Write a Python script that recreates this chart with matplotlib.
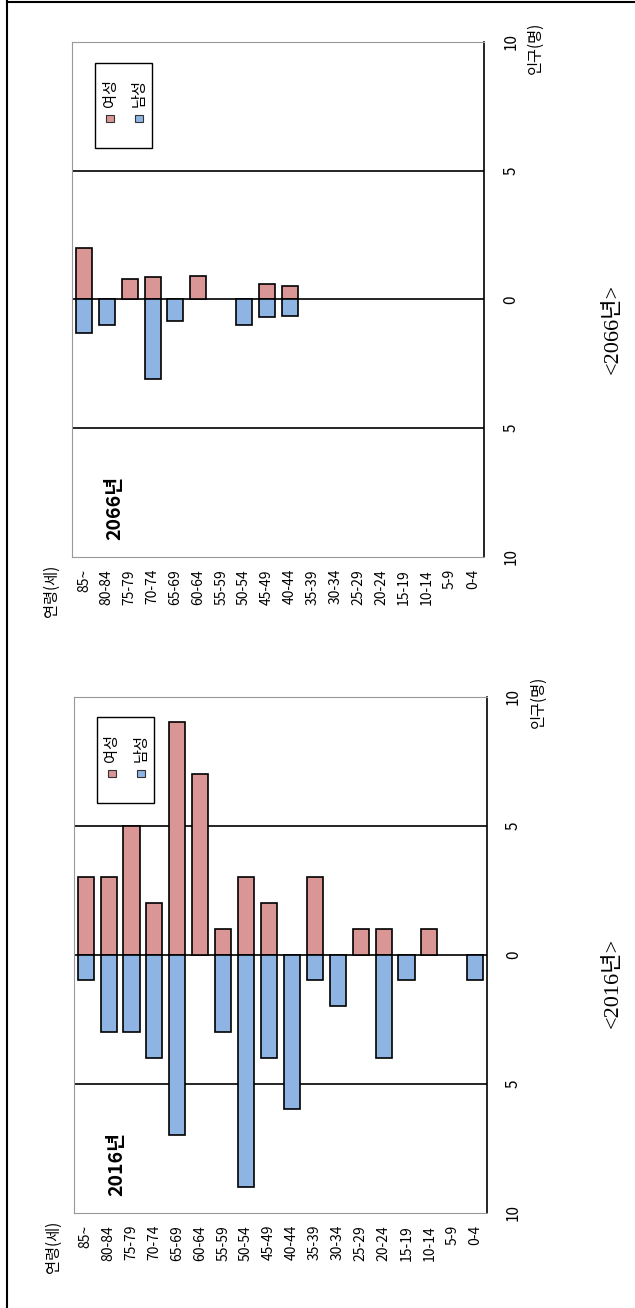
import matplotlib
matplotlib.use('Agg')
import matplotlib.pyplot as plt
from matplotlib.patches import Rectangle
from matplotlib.lines import Line2D

plt.rcParams['font.family'] = ['Noto Sans CJK KR', 'DejaVu Sans']

ages = ['85~', '80-84', '75-79', '70-74', '65-69', '60-64', '55-59', '50-54', '45-49',
        '40-44', '35-39', '30-34', '25-29', '20-24', '15-19', '10-14', '5-9', '0-4']
female_2016 = [3, 3, 5, 2, 9, 7, 1, 3, 2, 0, 3, 0, 1, 1, 0, 1, 0, 0]
male_2016 = [1, 3, 3, 4, 7, 0, 3, 9, 4, 6, 1, 2, 0, 4, 1, 0, 0, 1]
female_2066 = [2.0, 0, 0.8, 0.85, 0, 0.9, 0, 0, 0.6, 0.5, 0, 0, 0, 0, 0, 0, 0, 0]
male_2066 = [1.3, 1.0, 0, 3.1, 0.85, 0, 0, 1.0, 0.7, 0.65, 0, 0, 0, 0, 0, 0, 0, 0]
pop_ticks = [-10, -5, 0, 5, 10]
pop_ticklabels = ['10', '5', '0', '5', '10']
legend_labels = ['여성', '남성']

FEMALE = '#D99694'
MALE = '#8DB4E2'
W, H = 635, 1308


def draw_panel(fig, rect, female, male, year):
    ax = fig.add_axes(rect)
    x = list(range(len(ages)))
    for v in pop_ticks[1:-1]:
        ax.axhline(v, color='black', lw=1.2, zorder=1)
    # empty age groups get no bar at all
    fx = [i for i in x if female[i] != 0]
    mx = [i for i in x if male[i] != 0]
    ax.bar(fx, [female[i] for i in fx], width=0.7, color=FEMALE,
           edgecolor='black', lw=1.2, zorder=2)
    ax.bar(mx, [-male[i] for i in mx], width=0.7, color=MALE,
           edgecolor='black', lw=1.2, zorder=2)
    ax.set_xlim(-0.51, len(ages) - 0.5)
    ax.set_ylim(-10, 10)

    ax.set_xticks(x)
    ax.set_xticklabels(ages, rotation=90, fontsize=10)
    ax.tick_params(axis='x', length=0, pad=9)
    ax.yaxis.tick_right()
    ax.set_yticks(pop_ticks)
    ax.set_yticklabels(pop_ticklabels, rotation=90, va='center', fontsize=11)
    ax.tick_params(axis='y', length=0, pad=13)

    for s in ['left', 'top', 'bottom']:
        ax.spines[s].set_color('#999999')
    ax.spines['right'].set_color('black')
    ax.spines['right'].set_linewidth(1.2)

    # axis names
    ax.text(1.124, 0.989, '인구(명)', rotation=90, ha='center', va='center',
            fontsize=11, transform=ax.transAxes)
    ax.text(-0.051, -0.016, '연령(세)', rotation=90, ha='center', va='top',
            fontsize=11, transform=ax.transAxes)
    ax.text(0.104, 0.094, str(year) + '년', rotation=90, ha='center', va='center',
            fontsize=14, fontweight='bold', transform=ax.transAxes)

    # rotated legend
    ax.add_patch(Rectangle((0.0557, 0.794), 0.138, 0.166, transform=ax.transAxes,
                           facecolor='white', edgecolor='black', lw=1, zorder=5))
    for lx, col, lab in zip([0.092, 0.162], [FEMALE, MALE], legend_labels):
        ax.add_patch(Rectangle((lx - 0.0097, 0.844), 0.0194, 0.0136, transform=ax.transAxes,
                               facecolor=col, edgecolor='#333333', lw=0.8, zorder=6))
        ax.text(lx, 0.901, lab, rotation=90, ha='center', va='center',
                fontsize=11, transform=ax.transAxes, zorder=6)
    return ax


fig = plt.figure(figsize=(W / 100, H / 100), dpi=100)

draw_panel(fig, [74 / W, 1 - 1212.5 / H, 412.7 / W, 516 / H], female_2016, male_2016, 2016)
draw_panel(fig, [72.3 / W, 1 - 556.6 / H, 412 / W, 514.6 / H], female_2066, male_2066, 2066)

cap_font = ['Liberation Serif', 'Noto Sans CJK KR']
fig.text(612.5 / W, 1 - 983 / H, '<2016년>', rotation=90, ha='center', va='center',
         fontsize=16, family=cap_font)
fig.text(612.5 / W, 1 - 328.5 / H, '<2066년>', rotation=90, ha='center', va='center',
         fontsize=16, family=cap_font)

# page border
fig.add_artist(Line2D([7 / W, 7 / W], [0, 1], transform=fig.transFigure, color='black', lw=1.5))
fig.add_artist(Line2D([7 / W, 1], [1 - 1.5 / H, 1 - 1.5 / H], transform=fig.transFigure,
                      color='black', lw=1.5))

plt.savefig('out.png', dpi=100)
